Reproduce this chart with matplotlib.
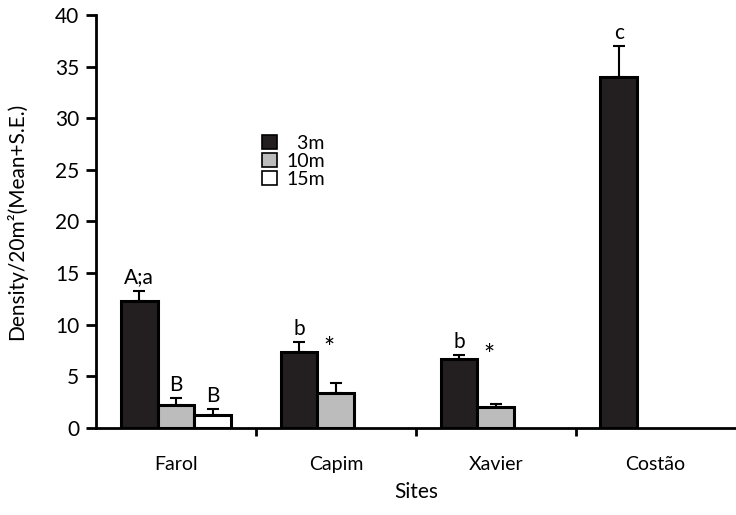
import numpy as np
import matplotlib.pyplot as plt

plt.rcParams['font.family'] = ['Lato', 'DejaVu Sans']

sites = ['Farol', 'Capim', 'Xavier', 'Costão']
depths = ['  3m', '10m', '15m']
# mean density per site for each depth (nan = not sampled)
mean_3m = [12.3, 7.4, 6.7, 34.0]
mean_10m = [2.2, 3.4, 2.0, np.nan]
mean_15m = [1.3, np.nan, np.nan, np.nan]
se_3m = [1.0, 0.9, 0.35, 3.0]
se_10m = [0.7, 1.0, 0.35, np.nan]
se_15m = [0.5, np.nan, np.nan, np.nan]
# significance letters above bars
lab_3m = ['A;a', 'b', 'b', 'c']
lab_10m = ['B', '', '', '']
lab_15m = ['B', '', '', '']
star = ['', '*', '*', '']

means = [mean_3m, mean_10m, mean_15m]
ses = [se_3m, se_10m, se_15m]
labs = [lab_3m, lab_10m, lab_15m]
colors = ['#231f20', '#bcbcbc', 'white']

fig = plt.figure(figsize=(7.36, 5.15), dpi=100)
ax = fig.add_axes([0.1304, 0.169, 0.869, 0.802])

x = np.arange(len(sites))
w = 0.23
offs = [-0.23, 0.0, 0.23]
for m, s, lb, c, o, d in zip(means, ses, labs, colors, offs, depths):
    m = np.array(m)
    s = np.array(s)
    ok = ~np.isnan(m)
    ax.bar(x[ok] + o, m[ok], w, color=c, edgecolor='black', linewidth=2.2, label=d, zorder=2)
    ax.errorbar(x[ok] + o, m[ok], yerr=[np.zeros(ok.sum()), s[ok]], fmt='none',
                ecolor='black', elinewidth=1.5, capsize=4, capthick=1.5, zorder=1)
    for xi, mi, si, li in zip(x[ok] + o, m[ok], s[ok], np.array(lb)[ok]):
        if li:
            ax.text(xi, mi + si + 0.3, li, ha='center', va='bottom', fontsize=15)

# asterisks next to the 3m bars
for xi, mi, st in zip(x, mean_3m, star):
    if st:
        ax.text(xi - 0.23 + 0.19, mi - 1.0, st, ha='center', va='bottom', fontsize=19)

ax.set_xlim(-0.5, 3.5)
ax.set_ylim(0, 40)
ax.set_yticks(range(0, 41, 5))
ax.set_xticks(x)
ax.set_xticklabels(sites)
ax.set_xticks([0.5, 1.5, 2.5], minor=True)
ax.tick_params(axis='x', which='major', length=0, labelsize=14, pad=20)
ax.tick_params(axis='x', which='minor', length=6, width=2)
ax.tick_params(axis='y', length=7, width=2, labelsize=15, pad=5)
for sp in ['top', 'right']:
    ax.spines[sp].set_visible(False)
for sp in ['left', 'bottom']:
    ax.spines[sp].set_linewidth(2)
ax.set_xlabel('Sites', fontsize=15, labelpad=7)
ax.set_ylabel('Density/20m²(Mean+S.E.)', fontsize=15, labelpad=20)

leg = ax.legend(loc='upper left', bbox_to_anchor=(0.245, 0.733), frameon=False,
                fontsize=14, handlelength=0.75, handleheight=0.75, handletextpad=0.5,
                labelspacing=0.05, borderpad=0)
for h in leg.legend_handles:
    h.set_linewidth(1.2)

fig.savefig('out.png', dpi=100)
